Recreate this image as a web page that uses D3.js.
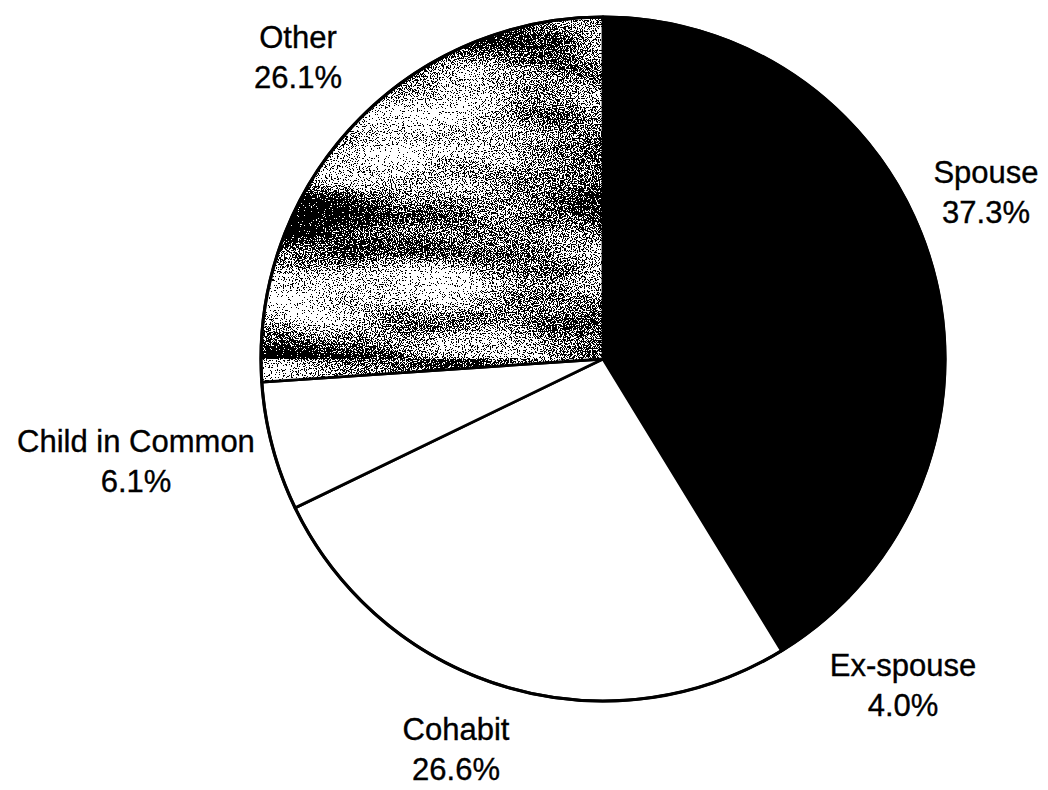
<!DOCTYPE html>
<html>
<head>
<meta charset="utf-8">
<script src="https://cdn.jsdelivr.net/npm/d3@7/dist/d3.min.js"></script>
<style>
  html, body { margin: 0; padding: 0; background: #fff; }
  svg { display: block; }
  text { font-family: "Liberation Sans", Arial, sans-serif; fill: #000; stroke: #000; stroke-width: 0.35px; }
</style>
</head>
<body>
<svg id="chart" width="1048" height="790"></svg>
<script>
// Relationship of victim to offender, share of cases (%)
const categories = ["Spouse", "Ex-spouse", "Cohabit", "Child in Common", "Other"];
const shares = [37.3, 4.0, 26.6, 6.1, 26.1];

// Slice fills: solid black, plain white, or the mottled grey texture
const fills = ["#000", "#000", "#fff", "#fff", "url(#mottle)"];

// Label anchors (centre x, first baseline) placed around the pie
const labelAnchors = [
  [986, 183],
  [903, 676],
  [456, 740],
  [136, 452],
  [298, 48]
];

const W = 1048, H = 790;
const cx = 603, cy = 359, R = 342;
const fontSize = 31, lineGap = 40;

const svg = d3.select("#chart");

// Mottled grey: soft horizontal bands of light/dark mixed with fine speckle, thresholded
const defs = svg.append("defs");
const f = defs.append("filter")
  .attr("id", "grain")
  .attr("x", 0).attr("y", 0).attr("width", 1).attr("height", 1)
  .attr("filterUnits", "objectBoundingBox")
  .attr("color-interpolation-filters", "sRGB");
f.append("feTurbulence").attr("type", "fractalNoise")
  .attr("baseFrequency", "0.004 0.013").attr("numOctaves", 3).attr("seed", 11)
  .attr("result", "bandsRaw");
f.append("feColorMatrix").attr("in", "bandsRaw").attr("type", "matrix")
  .attr("values", "1 0 0 0 0  1 0 0 0 0  1 0 0 0 0  0 0 0 0 1")
  .attr("result", "bands");
f.append("feTurbulence").attr("type", "fractalNoise")
  .attr("baseFrequency", "0.85").attr("numOctaves", 2).attr("seed", 4)
  .attr("result", "grainRaw");
f.append("feColorMatrix").attr("in", "grainRaw").attr("type", "matrix")
  .attr("values", "1 0 0 0 0  1 0 0 0 0  1 0 0 0 0  0 0 0 0 1")
  .attr("result", "fine");
f.append("feComposite").attr("in", "bands").attr("in2", "fine")
  .attr("operator", "arithmetic")
  .attr("k1", 0).attr("k2", 2.2).attr("k3", 3.0).attr("k4", -2.13)
  .attr("result", "mix");
const ct = f.append("feComponentTransfer").attr("in", "mix");
ct.append("feFuncR").attr("type", "discrete").attr("tableValues", "0 1");
ct.append("feFuncG").attr("type", "discrete").attr("tableValues", "0 1");
ct.append("feFuncB").attr("type", "discrete").attr("tableValues", "0 1");

const pat = defs.append("pattern")
  .attr("id", "mottle")
  .attr("patternUnits", "userSpaceOnUse")
  .attr("x", 0).attr("y", 0).attr("width", W).attr("height", H);
pat.append("rect")
  .attr("width", W).attr("height", H)
  .attr("fill", "#888")
  .attr("filter", "url(#grain)");

const pie = d3.pie().sort(null).value(d => d.value).startAngle(0).endAngle(2 * Math.PI);
const arc = d3.arc().innerRadius(0).outerRadius(R);

const data = categories.map((c, i) => ({ name: c, value: shares[i], fill: fills[i], anchor: labelAnchors[i] }));
const arcs = pie(data);

const g = svg.append("g").attr("transform", `translate(${cx},${cy})`);

g.selectAll("path.slice")
  .data(arcs)
  .join("path")
  .attr("class", "slice")
  .attr("d", arc)
  .attr("fill", d => d.data.fill)
  .attr("stroke", "#000")
  .attr("stroke-width", 2.8)
  .attr("stroke-linejoin", "round");

// Heavier outer rim
g.append("circle")
  .attr("r", R)
  .attr("fill", "none")
  .attr("stroke", "#000")
  .attr("stroke-width", 3.2);

// Category labels with percentage on a second line
const labels = svg.append("g").attr("class", "labels");
labels.selectAll("text")
  .data(data)
  .join("text")
  .attr("text-anchor", "middle")
  .attr("font-size", fontSize)
  .attr("x", d => d.anchor[0])
  .attr("y", d => d.anchor[1])
  .each(function(d) {
    const t = d3.select(this);
    t.append("tspan").attr("x", d.anchor[0]).text(d.name);
    t.append("tspan").attr("x", d.anchor[0]).attr("dy", lineGap).text(d.value.toFixed(1) + "%");
  });
</script>
</body>
</html>
